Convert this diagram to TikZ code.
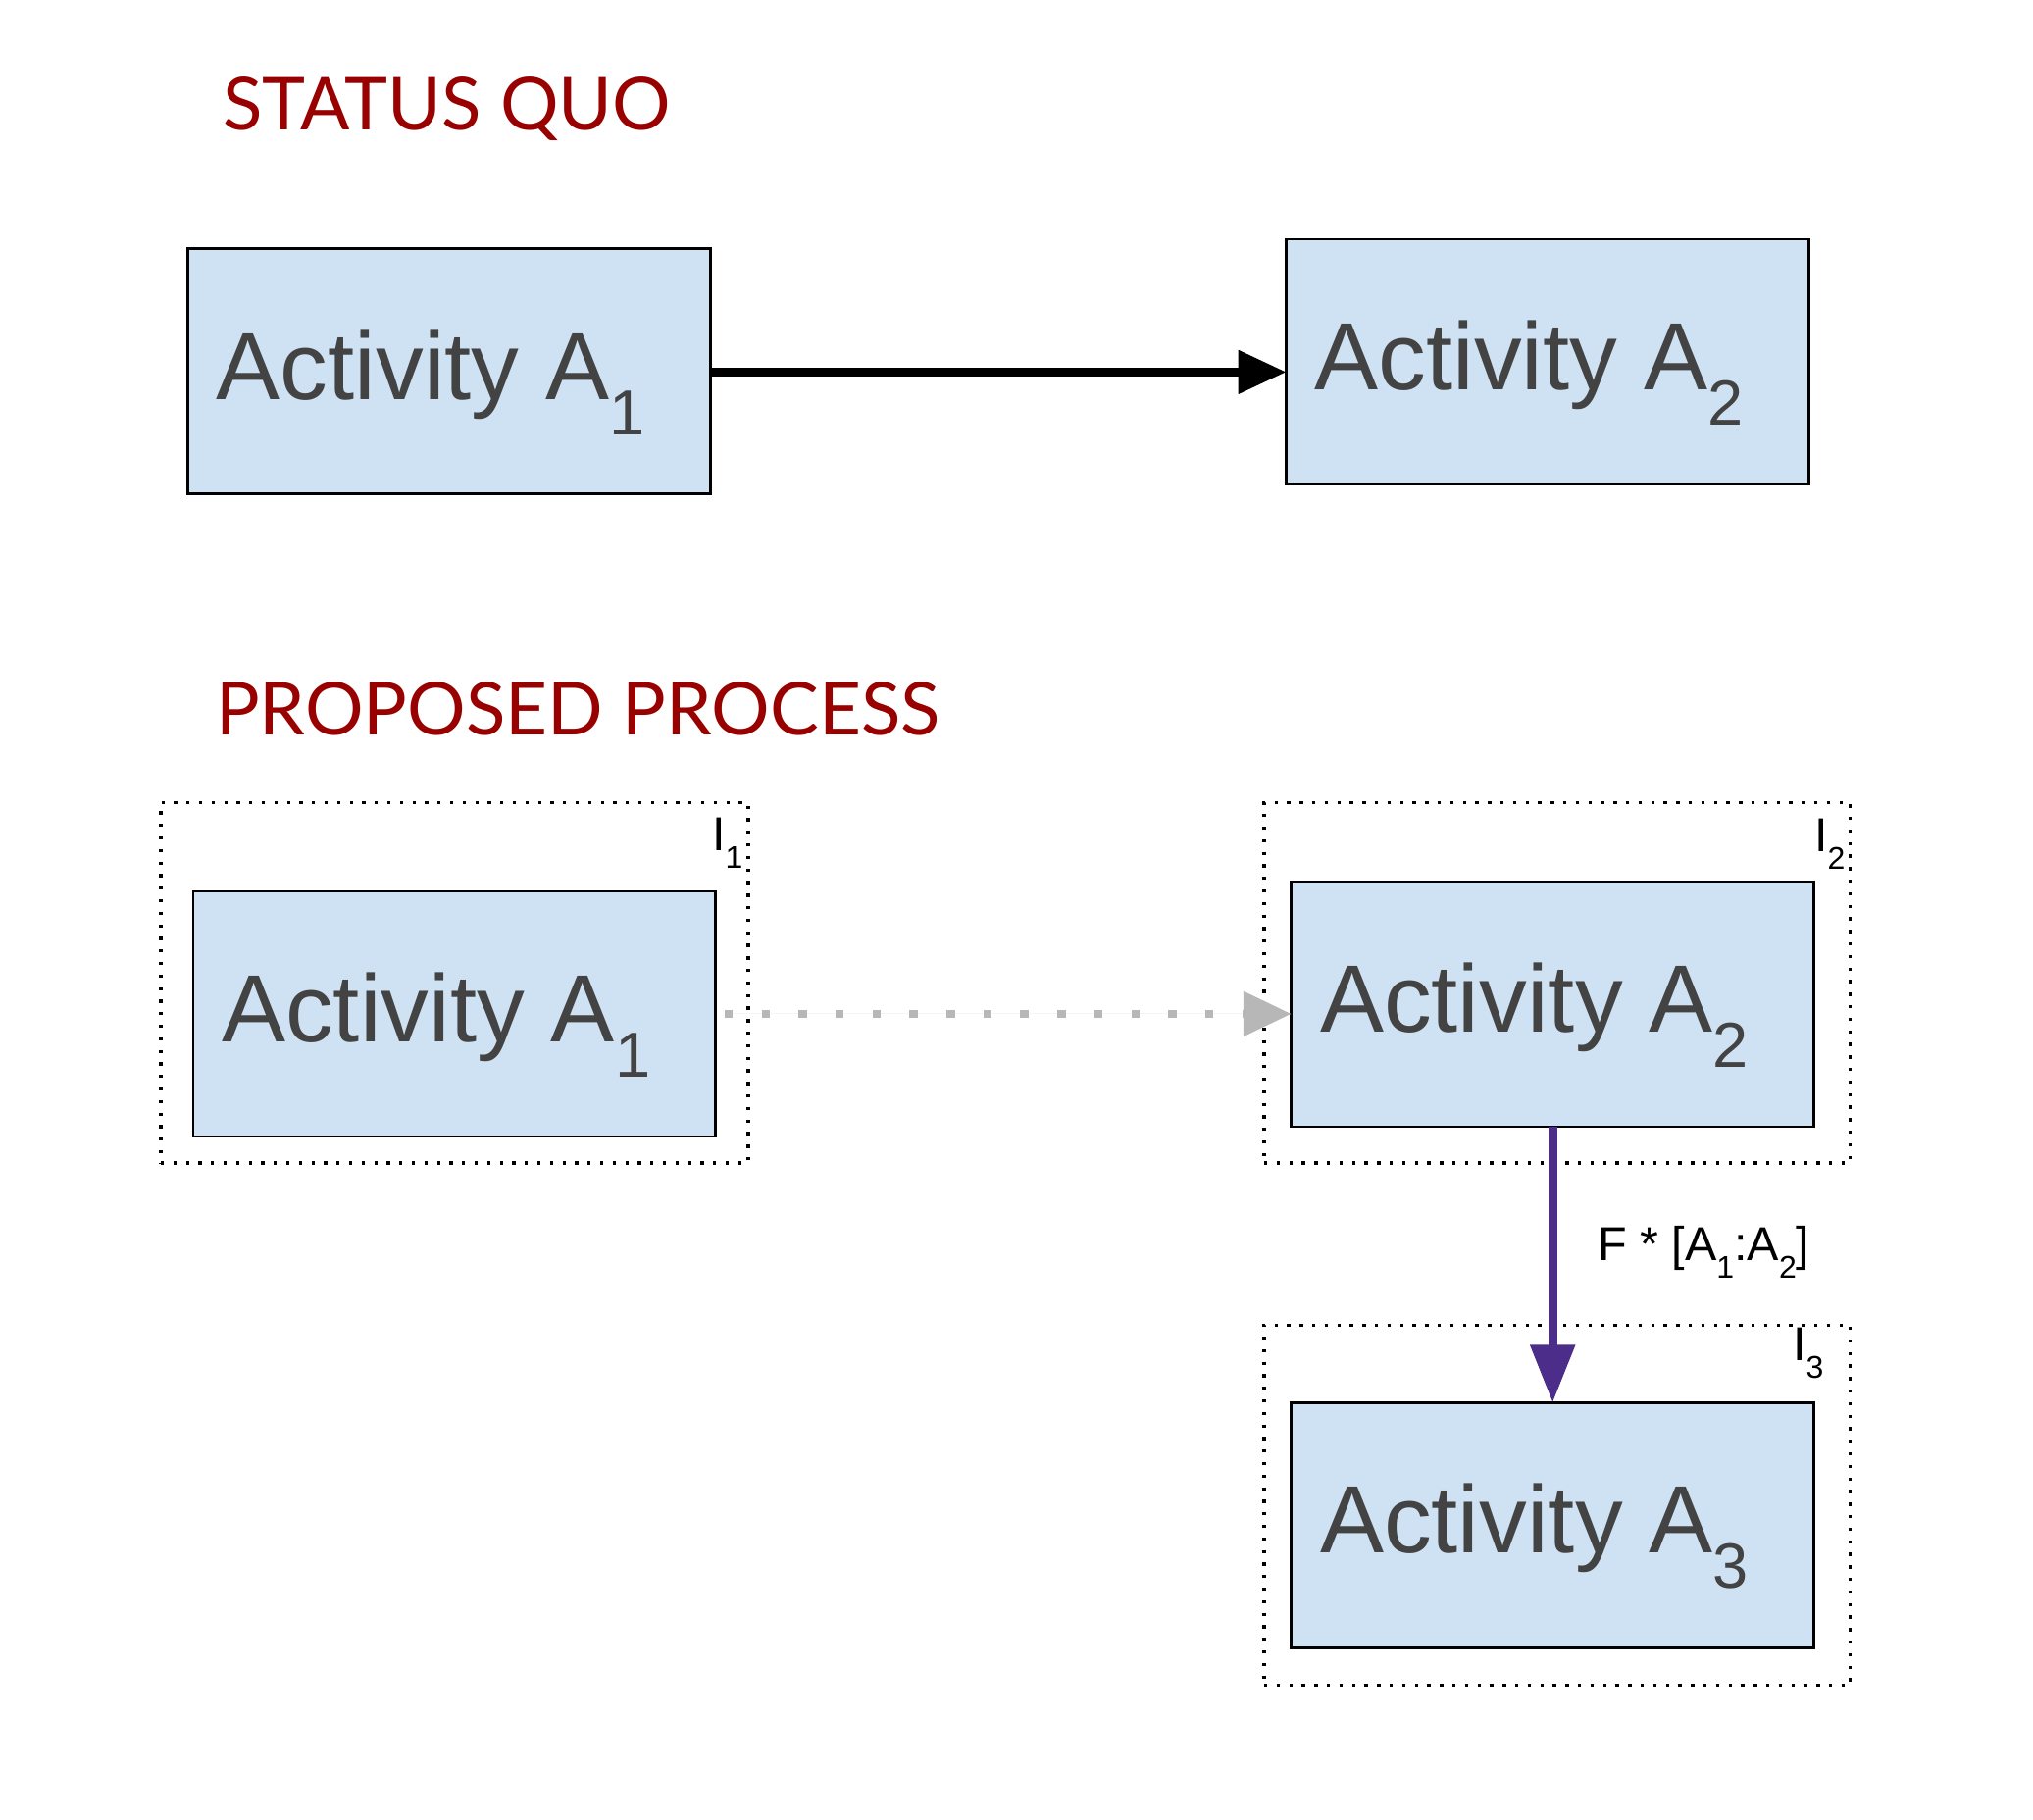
\documentclass[tikz,border=0pt]{standalone}
\usepackage{fontspec}
\setmainfont{Liberation Sans}
\newfontfamily\headfont{Lato}
\usetikzlibrary{arrows.meta}
\definecolor{boxfill}{HTML}{CFE2F3}
\definecolor{boxtext}{HTML}{434343}
\definecolor{headred}{HTML}{990000}
\definecolor{arrgray}{HTML}{B7B7B7}
\definecolor{arrpurple}{RGB}{76,46,138}
\newcommand\actsub[1]{\raisebox{-36pt}{\fontsize{65}{78}\selectfont #1}}
\newcommand\lblsub[1]{\raisebox{-18pt}{\fontsize{32}{38}\selectfont #1}}
\tikzset{
  actbox/.style={draw=black, line width=2.7pt, fill=boxfill, minimum width=532.8pt, minimum height=250pt, inner sep=0pt, outer sep=0pt},
  groupbox/.style={draw=black, line width=3.3pt, dash pattern=on 3.3pt off 9.5pt, inner sep=0pt, outer sep=0pt, minimum height=367.5pt},
  acttext/.style={anchor=base west, text=boxtext, inner sep=0pt, font=\fontsize{97.5}{117}\selectfont},
  heading/.style={anchor=base west, text=headred, inner sep=0pt, font=\headfont\fontsize{74.5}{88}\selectfont},
  ilabel/.style={anchor=base west, inner sep=0pt, font=\fontsize{48.5}{58}\selectfont},
}
\begin{document}
\begin{tikzpicture}[x=1pt,y=-1pt]
\useasboundingbox (0,0) rectangle (2073,1856);
% headings
\node[heading] (hsq) at (227,132) {STATUS QUO};
\node[heading] (hpp) at (220,749) {PROPOSED PROCESS};
% status quo
\node[actbox] (a1) at (458.1,378.8) {};
\node[actbox] (a2) at (1577.9,368.9) {};
\node[acttext] (a1t) at (220.7,407.3) {Activity A\actsub{1}};
\node[acttext] (a2t) at (1340.5,397.4) {Activity A\actsub{2}};
\draw[line width=8.5pt, -{Triangle[length=49pt,width=43pt]}] (a1.east |- 0,379.4) coordinate (s1) -- (a2.west |- s1);
% proposed process
\node[groupbox, minimum width=599pt] (g1) at (463.4,1002.2) {};
\node[groupbox, minimum width=597.6pt] (g2) at (1587.8,1002.2) {};
\node[groupbox, minimum width=597.6pt] (g3) at (1587.8,1535) {};
\node[ilabel] (l1) at (726,867) {I\lblsub{1}};
\node[ilabel] (l2) at (1850,868) {I\lblsub{2}};
\node[ilabel] (l3) at (1828,1387) {I\lblsub{3}};
\node[actbox] (b1) at (463.4,1033.9) {};
\node[actbox] (b2) at (1583.2,1024) {};
\node[actbox] (b3) at (1583.2,1555.4) {};
\node[acttext] (b1t) at (226,1062.4) {Activity A\actsub{1}};
\node[acttext] (b2t) at (1345.8,1052.5) {Activity A\actsub{2}};
\node[acttext] (b3t) at (1345.8,1583.9) {Activity A\actsub{3}};
\draw[draw=arrgray, fill=arrgray, line width=8.5pt, dash pattern=on 8.5pt off 29.2pt, shorten <=9pt, -{Triangle[length=49pt,width=44pt]}] (b1.east) -- (b1.east -| b2.west);
\draw[draw=arrpurple, fill=arrpurple, line width=9pt, -{Triangle[length=59pt,width=44pt]}] (b2.south) -- (b3.north);
\node[ilabel] (flbl) at (1629,1285) {F * [A\lblsub{1}:A\lblsub{2}]};
\end{tikzpicture}
\end{document}
